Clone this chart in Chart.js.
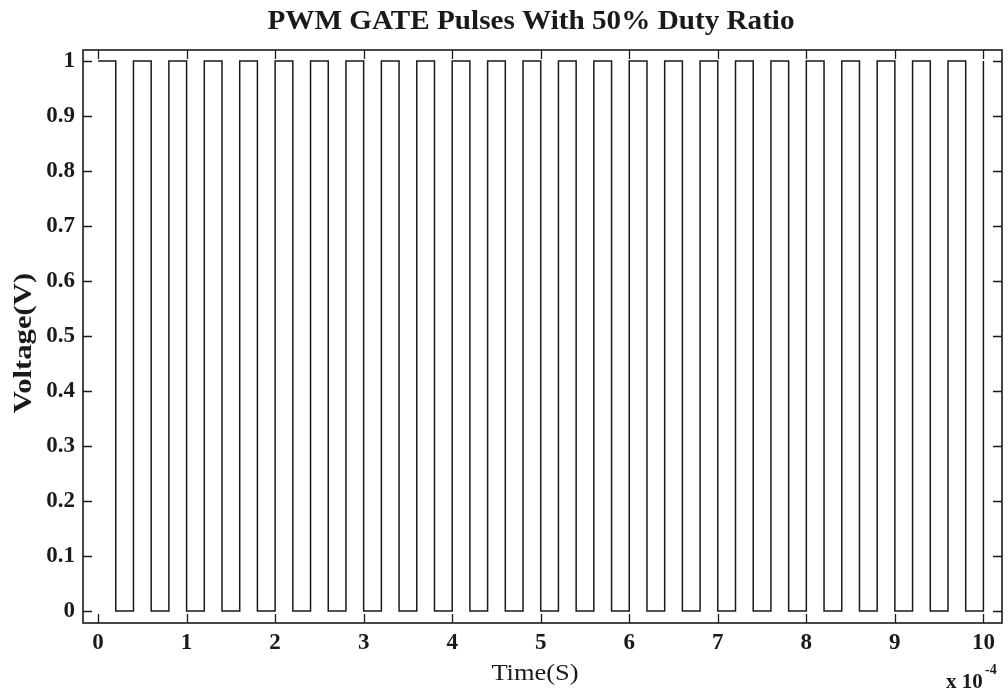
<!DOCTYPE html>
<html>
<head>
<meta charset="utf-8">
<script src="https://cdn.jsdelivr.net/npm/chart.js"></script>
<style>
    html, body { margin: 0; padding: 0; background: #ffffff; }
    #wrap { width: 1008px; height: 691px; }
</style>
</head>
<body>
<div id="wrap"><canvas id="pwmChart" width="1008" height="691"></canvas></div>
<script>
// 시간축 (x 10^-4 s) - 각 엣지 위치
const timeValues = [
    0, 0.2, 0.4, 0.6, 0.8, 1.0, 1.2, 1.4, 1.6, 1.8,
    2.0, 2.2, 2.4, 2.6, 2.8, 3.0, 3.2, 3.4, 3.6, 3.8,
    4.0, 4.2, 4.4, 4.6, 4.8, 5.0, 5.2, 5.4, 5.6, 5.8,
    6.0, 6.2, 6.4, 6.6, 6.8, 7.0, 7.2, 7.4, 7.6, 7.8,
    8.0, 8.2, 8.4, 8.6, 8.8, 9.0, 9.2, 9.4, 9.6, 9.8,
    10.0
];

// 게이트 전압 (V) - 해당 시점부터 유지되는 값
const voltageValues = [
    1, 0, 1, 0, 1, 0, 1, 0, 1, 0,
    1, 0, 1, 0, 1, 0, 1, 0, 1, 0,
    1, 0, 1, 0, 1, 0, 1, 0, 1, 0,
    1, 0, 1, 0, 1, 0, 1, 0, 1, 0,
    1, 0, 1, 0, 1, 0, 1, 0, 1, 0,
    1
];

// 눈금 라벨
const xTicks = [0, 1, 2, 3, 4, 5, 6, 7, 8, 9, 10];
const yTicks = [0, 0.1, 0.2, 0.3, 0.4, 0.5, 0.6, 0.7, 0.8, 0.9, 1];
const yTickLabels = ['0', '0.1', '0.2', '0.3', '0.4', '0.5', '0.6', '0.7', '0.8', '0.9', '1'];

const SERIF = "'Liberation Serif', 'Times New Roman', serif";
const INK = '#1a1a1a';

// 안쪽 눈금 + 테두리 (MATLAB 스타일 박스)
const boxPlugin = {
    id: 'matlabBox',
    afterDatasetsDraw(chart) {
        const { ctx, chartArea: a, scales } = chart;
        const len = 9;
        ctx.save();
        ctx.strokeStyle = INK;
        ctx.lineWidth = 1.3;
        ctx.beginPath();
        xTicks.forEach((v) => {
            const px = Math.round(scales.x.getPixelForValue(v)) + 0.5;
            ctx.moveTo(px, a.bottom); ctx.lineTo(px, a.bottom - len);
            ctx.moveTo(px, a.top); ctx.lineTo(px, a.top + len);
        });
        yTicks.forEach((v) => {
            const py = Math.round(scales.y.getPixelForValue(v)) + 0.5;
            ctx.moveTo(a.left, py); ctx.lineTo(a.left + len, py);
            ctx.moveTo(a.right, py); ctx.lineTo(a.right - len, py);
        });
        ctx.stroke();
        ctx.lineWidth = 1.6;
        ctx.strokeRect(a.left, a.top, a.right - a.left, a.bottom - a.top);
        ctx.restore();
    }
};

// 제목, 축 제목, 지수 표기
const textPlugin = {
    id: 'matlabText',
    afterDraw(chart) {
        const { ctx } = chart;
        ctx.save();
        ctx.fillStyle = INK;

        // 제목 (가로로 약간 늘림)
        ctx.save();
        ctx.translate(531, 29);
        ctx.scale(1.08, 1);
        ctx.font = `bold 27px ${SERIF}`;
        ctx.textAlign = 'center';
        ctx.textBaseline = 'alphabetic';
        ctx.fillText('PWM GATE Pulses With 50% Duty Ratio', 0, 0);
        ctx.restore();

        // x축 제목
        ctx.save();
        ctx.translate(535, 680);
        ctx.scale(1.15, 1);
        ctx.font = `23px ${SERIF}`;
        ctx.textAlign = 'center';
        ctx.fillText('Time(S)', 0, 0);
        ctx.restore();

        // y축 제목
        ctx.save();
        ctx.translate(31, 343);
        ctx.rotate(-Math.PI / 2);
        ctx.scale(1.18, 1);
        ctx.font = `bold 26px ${SERIF}`;
        ctx.textAlign = 'center';
        ctx.fillText('Voltage(V)', 0, 0);
        ctx.restore();

        // x 10^-4
        ctx.font = `bold 21px ${SERIF}`;
        ctx.textAlign = 'left';
        ctx.fillText('x 10', 946, 688);
        ctx.font = `bold 14px ${SERIF}`;
        ctx.fillText('-4', 985, 674);

        ctx.restore();
    }
};

const points = timeValues.map((t, i) => ({ x: t, y: voltageValues[i] }));

new Chart(document.getElementById('pwmChart').getContext('2d'), {
    type: 'line',
    data: {
        datasets: [{
            label: 'Gate',
            data: points,
            stepped: 'before',
            borderColor: INK,
            borderWidth: 1.5,
            pointRadius: 0,
            fill: false,
        }],
    },
    options: {
        responsive: false,
        animation: false,
        events: [],
        layout: { padding: { top: 50, right: 6, left: 0, bottom: 0 } },
        plugins: {
            legend: { display: false },
            title: { display: false },
            tooltip: { enabled: false },
        },
        scales: {
            x: {
                type: 'linear',
                min: -0.17,
                max: 10.21,
                afterFit: (scale) => { scale.height = 68; },
                afterBuildTicks: (scale) => { scale.ticks = xTicks.map((v) => ({ value: v })); },
                grid: { display: false, drawTicks: false },
                border: { display: false },
                ticks: {
                    padding: 6,
                    color: INK,
                    maxRotation: 0,
                    autoSkip: false,
                    font: { family: SERIF, size: 23, weight: 'bold' },
                    callback: (v) => String(v),
                },
            },
            y: {
                type: 'linear',
                min: -0.022,
                max: 1.02,
                afterFit: (scale) => { scale.width = 83; },
                afterBuildTicks: (scale) => { scale.ticks = yTicks.map((v) => ({ value: v })); },
                grid: { display: false, drawTicks: false },
                border: { display: false },
                ticks: {
                    padding: 8,
                    color: INK,
                    autoSkip: false,
                    font: { family: SERIF, size: 23, weight: 'bold' },
                    callback: (v) => yTickLabels[yTicks.indexOf(v)] ?? String(v),
                },
            },
        },
    },
    plugins: [boxPlugin, textPlugin],
});
</script>
</body>
</html>
